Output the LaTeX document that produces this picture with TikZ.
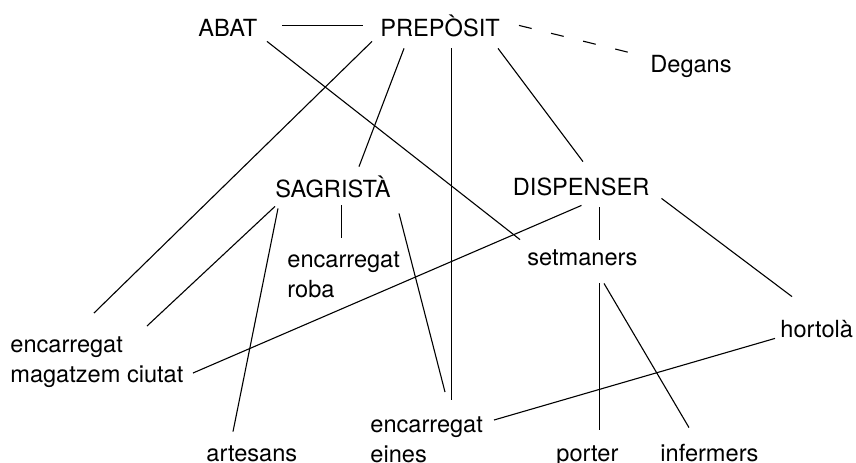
\documentclass[tikz,border=0pt]{standalone}
\usepackage{fontspec}
\setmainfont{TeX Gyre Heros}

\tikzstyle{role} = [inner sep=0pt, text height=8.5pt, text depth=0pt, anchor=base west]
\tikzstyle{rolebox} = [inner sep=0pt, align=left, anchor=north west]
\tikzstyle{link} = [line width=0.55pt]

\begin{document}
\begin{tikzpicture}[x=0.5pt, y=-0.5pt, font=\fontsize{11.8pt}{15pt}\selectfont]
    \useasboundingbox (0,0) rectangle (856,462);

    % top row
    \node [role] (abat) at (198,36) {ABAT};
    \node [role] (prepositus) at (380,36) {PREPÒSIT};
    \node [role] (degans) at (650,72) {Degans};

    % officers
    \node [role] (sagrista) at (275,197) {SAGRISTÀ};
    \node [role] (dispenser) at (512.5,195) {DISPENSER};
    \node [rolebox] (roba) at (287,251) {encarregat\\roba};
    \node [role] (setmaners) at (527,265) {setmaners};

    % lower offices
    \node [rolebox] (magatzem) at (10,336) {encarregat\\magatzem ciutat};
    \node [role] (hortola) at (780,337) {hortolà};
    \node [rolebox] (eines) at (370,416) {encarregat\\eines};
    \node [role] (artesans) at (206,461) {artesans};
    \node [role] (porter) at (556,461) {porter};
    \node [role] (infermers) at (660,461) {infermers};

    \draw [link] ([shift={(84,-11)}]abat.south west) -- ([shift={(-17,-11)}]prepositus.south west);
    \draw [link] ([shift={(69,5)}]abat.south west) -- ([shift={(-7,-8)}]setmaners.north west);
    \draw [link, dash pattern=on 6.5pt off 10pt] ([shift={(139,-11)}]prepositus.south west) -- ([shift={(-13,-18)}]degans.south west);

    \draw [link] ([shift={(-8,5)}]prepositus.south west) -- ([shift={(84,-23)}]magatzem.north west);
    \draw [link] ([shift={(24,12)}]prepositus.south west) -- ([shift={(84,-13)}]sagrista.north west);
    \draw [link] ([shift={(71.5,12)}]prepositus.south west) -- ([shift={(81.5,-16)}]eines.north west);
    \draw [link] ([shift={(118,12)}]prepositus.south west) -- ([shift={(70.5,-16)}]dispenser.north west);

    \draw [link] ([shift={(0,9)}]sagrista.south west) -- ([shift={(137,-10)}]magatzem.north west);
    \draw [link] ([shift={(3,11)}]sagrista.south west) -- ([shift={(27,-12)}]artesans.north west);
    \draw [link] ([shift={(66.5,8)}]sagrista.south west) -- ([shift={(54.5,-13)}]roba.north west);
    \draw [link] ([shift={(124,16)}]sagrista.south west) -- ([shift={(75,-24)}]eines.north west);

    \draw [link] ([shift={(69,10)}]dispenser.south west) -- ([shift={(183,37)}]magatzem.north west);
    \draw [link] ([shift={(87,12)}]dispenser.south west) -- ([shift={(72.5,-8)}]setmaners.north west);
    \draw [link] ([shift={(149,3)}]dispenser.south west) -- ([shift={(12,-23)}]hortola.north west);

    \draw [link] ([shift={(72.5,18)}]setmaners.south west) -- ([shift={(43.5,-14)}]porter.north west);
    \draw [link] ([shift={(77,18)}]setmaners.south west) -- ([shift={(29,-16)}]infermers.north west);
    \draw [link] ([shift={(-5,1)}]hortola.south west) -- ([shift={(124,4)}]eines.north west);
\end{tikzpicture}
\end{document}
